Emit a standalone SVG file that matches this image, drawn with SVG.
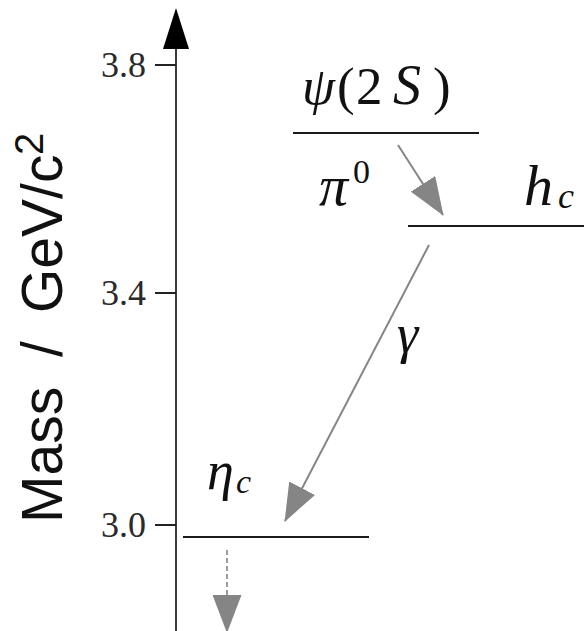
<svg xmlns="http://www.w3.org/2000/svg" width="584" height="631" viewBox="0 0 584 631">
<style>
.lvl{stroke:#1a1a1a;stroke-width:2;fill:none}
.tick{stroke:#222;stroke-width:2}
.tl{font-family:"Liberation Serif","DejaVu Serif",serif;font-size:36px;fill:#2a2a2a;text-anchor:end}
.m{font-family:"Liberation Serif","DejaVu Serif",serif;fill:#111}
.it{font-style:italic}
.arr{stroke:#858585;stroke-width:2;fill:none;marker-end:url(#head)}
.dash{stroke-dasharray:5,3;stroke-width:1.6}
.ax{font-family:"Liberation Sans",Arial,sans-serif;font-size:57px;fill:#111}
</style>
<defs>
<marker id="head" markerUnits="userSpaceOnUse" viewBox="0 0 38 29" markerWidth="38" markerHeight="29" refX="37" refY="14.5" orient="auto">
<path d="M0,0 L38,14.5 L0,29 z" fill="#858585"/>
</marker>
</defs>
<rect width="584" height="631" fill="#fff"/>
<g id="axis">
<line x1="176" y1="45" x2="176" y2="631" stroke="#3a3a3a" stroke-width="2"/>
<polygon points="176,8 163,49 189,49" fill="#000"/>
<line class="tick" x1="155" y1="65" x2="176" y2="65"/>
<line class="tick" x1="155" y1="293" x2="176" y2="293"/>
<line class="tick" x1="155" y1="525" x2="176" y2="525"/>
<text class="tl" x="146" y="77">3.8</text>
<text class="tl" x="146" y="305">3.4</text>
<text class="tl" x="146" y="537">3.0</text>
<text class="ax" transform="translate(62,523) rotate(-90)"><tspan x="0">Mass</tspan><tspan x="166">/</tspan><tspan x="210">GeV/c</tspan><tspan x="368" dy="-19" font-size="40">2</tspan></text>
</g>
<g id="psi2S">
<line class="lvl" x1="293" y1="133" x2="479" y2="133"/>
<text class="m" font-size="53" y="104"><tspan class="it" x="302">ψ</tspan><tspan x="337">(</tspan><tspan x="356">2</tspan><tspan class="it" x="393" font-size="56">S</tspan><tspan x="433">)</tspan></text>
</g>
<g id="hc">
<line class="lvl" x1="408" y1="226" x2="584" y2="226"/>
<text class="m it" x="524" y="205" font-size="58">h</text>
<text class="m it" x="558" y="208" font-size="36">c</text>
</g>
<g id="etac">
<line class="lvl" x1="183" y1="537" x2="369" y2="537"/>
<text class="m it" x="207" y="489" font-size="54">η</text>
<text class="m it" x="236" y="493" font-size="34">c</text>
</g>
<g id="connectors">
<line class="arr" x1="398" y1="145" x2="443" y2="215"/>
<text class="m it" x="319" y="205" font-size="58">π</text>
<text class="m" x="353" y="183" font-size="34">0</text>
<line class="arr" x1="429" y1="245" x2="285" y2="521"/>
<text class="m it" x="397" y="352" font-size="54">γ</text>
<line class="arr dash" x1="227" y1="550" x2="227" y2="632"/>
</g>
</svg>
